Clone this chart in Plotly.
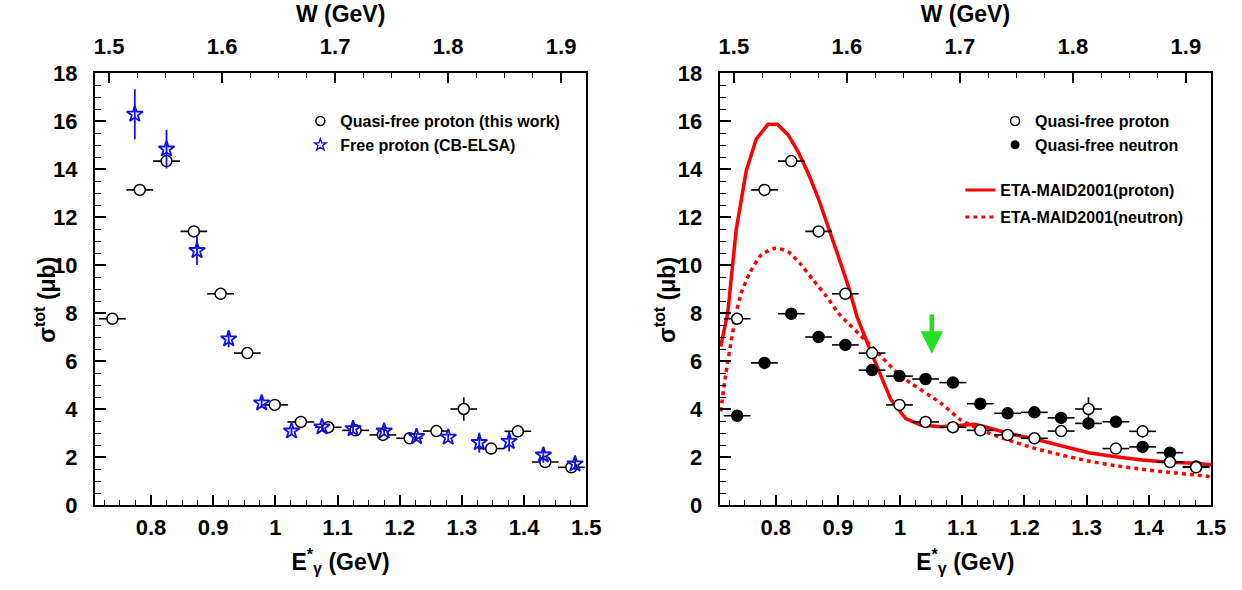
import numpy as np
import plotly.graph_objects as go

# ---------------- data ----------------
# quasi-free proton (this work), both panels
e_p = [0.738, 0.782, 0.825, 0.869, 0.912, 0.955, 0.999, 1.041, 1.085, 1.129,
       1.173, 1.216, 1.259, 1.303, 1.347, 1.390, 1.434, 1.476]
s_p = [7.76, 13.13, 14.33, 11.40, 8.80, 6.33, 4.17, 3.46, 3.24, 3.11,
       2.92, 2.78, 3.08, 4.00, 2.35, 3.07, 1.79, 1.57]
s_p_err = [0.1, 0.15, 0.2, 0.15, 0.15, 0.1, 0.1, 0.1, 0.1, 0.1,
           0.1, 0.1, 0.15, 0.49, 0.15, 0.25, 0.15, 0.1]
e_bin_half = 0.0215

# free proton (CB-ELSA)
e_f = [0.774, 0.825, 0.874, 0.925, 0.978, 1.026, 1.075, 1.125, 1.175, 1.227,
       1.278, 1.328, 1.376, 1.431, 1.482]
s_f = [16.28, 14.83, 10.60, 6.92, 4.25, 3.08, 3.25, 3.18, 3.08, 2.85,
       2.82, 2.60, 2.65, 2.08, 1.71]
s_f_err = [1.04, 0.81, 0.60, 0.35, 0.20, 0.15, 0.15, 0.20, 0.20, 0.15,
           0.15, 0.42, 0.42, 0.32, 0.25]

# quasi-free neutron
s_n = [3.72, 5.92, 7.97, 7.00, 6.67, 5.62, 5.37, 5.25, 5.10, 4.22,
       3.82, 3.86, 3.63, 3.40, 3.47, 2.42, 2.18, 1.60]
s_n_err = [0.1] * 18

# ETA-MAID2001 curves
maid_p_e = [0.7115, 0.7228, 0.7364, 0.7526, 0.7687, 0.7876, 0.8027, 0.820, 0.836,
            0.8523, 0.8685, 0.8847, 0.9009, 0.917, 0.9307, 0.952, 0.985, 1.009,
            1.033, 1.0656, 1.1195, 1.136, 1.1736, 1.2168, 1.260, 1.303, 1.3463,
            1.389, 1.4327, 1.4758, 1.500]
maid_p_s = [6.6, 7.99, 11.46, 13.92, 15.25, 15.86, 15.86, 15.42, 14.72,
            13.82, 12.78, 11.60, 10.35, 9.10, 7.85, 6.45, 4.40, 3.60,
            3.33, 3.26, 3.36, 3.26, 2.99, 2.75, 2.46, 2.18, 2.01,
            1.875, 1.78, 1.74, 1.68]
maid_n_e = [0.7115, 0.720, 0.7364, 0.7445, 0.7579, 0.7768, 0.800, 0.820, 0.8389,
            0.8604, 0.8821, 0.9009, 0.952, 1.000, 1.0656, 1.098, 1.130, 1.1736,
            1.2168, 1.260, 1.303, 1.346, 1.389, 1.433, 1.476, 1.500]
maid_n_s = [3.9, 5.5, 7.99, 8.82, 9.65, 10.42, 10.70, 10.55, 10.07,
            9.37, 8.68, 7.99, 6.67, 5.40, 4.24, 3.54, 3.125, 2.71,
            2.36, 2.08, 1.83, 1.64, 1.49, 1.36, 1.25, 1.18]

# ---------------- axes helpers ----------------
MP = 0.93827
E_MIN, E_MAX = 0.71, 1.5
def w_of_e(e):
    return float(np.sqrt(MP * MP + 2 * MP * e))
W_MIN, W_MAX = w_of_e(E_MIN), w_of_e(E_MAX)

FONT = "Liberation Sans, Arial, sans-serif"
BLUE = "#1010ee"
RED = "#ff0000"

fig = go.Figure()

def xerr():
    return dict(type="constant", value=e_bin_half, width=0, thickness=1.6, color="black")

# ---- left panel ----
fig.add_trace(go.Scatter(
    x=e_p, y=s_p, mode="markers", xaxis="x", yaxis="y", showlegend=False,
    error_x=xerr(),
    error_y=dict(type="data", array=s_p_err, width=0, thickness=1.6, color="black"),
    marker=dict(symbol="circle", size=11, color="white", line=dict(color="black", width=1.5))))
fig.add_trace(go.Scatter(
    x=e_f, y=s_f, mode="markers", xaxis="x", yaxis="y", showlegend=False,
    error_y=dict(type="data", array=s_f_err, width=0, thickness=1.8, color=BLUE),
    marker=dict(symbol="star-open", size=12, color=BLUE, line=dict(color=BLUE, width=1.8))))
# legend entries (left)
fig.add_trace(go.Scatter(
    x=[None], y=[None], mode="markers", xaxis="x", yaxis="y", legend="legend",
    name="Quasi-free proton (this work)", legendgroup="a",
    marker=dict(symbol="circle-open", size=9, color="black", line=dict(width=1.5))))
fig.add_trace(go.Scatter(
    x=[None], y=[None], mode="markers", xaxis="x", yaxis="y", legend="legend",
    name="Free proton (CB-ELSA)", legendgroup="b",
    marker=dict(symbol="star-open", size=9, color=BLUE, line=dict(width=1.3))))

# ---- right panel ----
fig.add_trace(go.Scatter(
    x=maid_n_e, y=maid_n_s, mode="lines", xaxis="x2", yaxis="y2", showlegend=False,
    line=dict(color=RED, width=3.5, dash="4px,4px", shape="spline", smoothing=0.6)))
fig.add_trace(go.Scatter(
    x=maid_p_e, y=maid_p_s, mode="lines", xaxis="x2", yaxis="y2", showlegend=False,
    line=dict(color=RED, width=3.5)))
fig.add_trace(go.Scatter(
    x=e_p, y=s_n, mode="markers", xaxis="x2", yaxis="y2", showlegend=False,
    error_x=xerr(),
    error_y=dict(type="data", array=s_n_err, width=0, thickness=1.6, color="black"),
    marker=dict(symbol="circle", size=11, color="black", line=dict(color="black", width=1.5))))
fig.add_trace(go.Scatter(
    x=e_p, y=s_p, mode="markers", xaxis="x2", yaxis="y2", showlegend=False,
    error_x=xerr(),
    error_y=dict(type="data", array=s_p_err, width=0, thickness=1.6, color="black"),
    marker=dict(symbol="circle", size=11, color="white", line=dict(color="black", width=1.5))))
# legend entries (right)
fig.add_trace(go.Scatter(
    x=[None], y=[None], mode="markers", xaxis="x2", yaxis="y2", legend="legend2",
    name="Quasi-free proton", legendgroup="c",
    marker=dict(symbol="circle-open", size=9, color="black", line=dict(width=1.5))))
fig.add_trace(go.Scatter(
    x=[None], y=[None], mode="markers", xaxis="x2", yaxis="y2", legend="legend2",
    name="Quasi-free neutron", legendgroup="d",
    marker=dict(symbol="circle", size=9, color="black")))
fig.add_trace(go.Scatter(
    x=[None], y=[None], mode="lines", xaxis="x2", yaxis="y2", legend="legend3",
    name="ETA-MAID2001(proton)", legendgroup="e",
    line=dict(color=RED, width=3)))
fig.add_trace(go.Scatter(
    x=[None], y=[None], mode="lines", xaxis="x2", yaxis="y2", legend="legend3",
    name="ETA-MAID2001(neutron)", legendgroup="f",
    line=dict(color=RED, width=3, dash="4px,4px")))

# dummy traces for the top W axes
fig.add_trace(go.Scatter(x=[None], y=[None], xaxis="x3", yaxis="y", showlegend=False, hoverinfo="skip"))
fig.add_trace(go.Scatter(x=[None], y=[None], xaxis="x4", yaxis="y2", showlegend=False, hoverinfo="skip"))

tickfont = dict(family=FONT, size=22, color="black", weight="bold")
titlefont = dict(family=FONT, size=23, color="black", weight="bold")

def e_axis(domain, anchor):
    return dict(domain=domain, anchor=anchor, range=[E_MIN, E_MAX], tick0=0.8, dtick=0.1,
                ticks="inside", ticklen=10, tickwidth=1.5, tickcolor="black",
                minor=dict(ticks="inside", ticklen=5, tickwidth=1.2, tickcolor="black",
                           dtick=0.025, tick0=0.8),
                showline=True, linewidth=2, linecolor="black", mirror=True,
                showgrid=False, zeroline=False, tickfont=tickfont, automargin=False,
                ticklabelstandoff=2,
                title=dict(text="E<sup>*</sup><sub>γ</sub> (GeV)", font=titlefont, standoff=14))

def w_axis(overlay, anchor):
    return dict(overlaying=overlay, anchor=anchor, side="top", range=[W_MIN, W_MAX],
                tick0=1.5, dtick=0.1, ticks="inside", ticklen=10, tickwidth=1.5,
                tickcolor="black",
                minor=dict(ticks="inside", ticklen=5, tickwidth=1.2, tickcolor="black",
                           dtick=0.025, tick0=1.5),
                showline=False, showgrid=False, zeroline=False, tickfont=tickfont,
                automargin=False, ticklabelstandoff=14,
                title=dict(text="W (GeV)", font=titlefont, standoff=4))

def s_axis(anchor):
    return dict(anchor=anchor, domain=[0, 1], range=[0, 18], tick0=0, dtick=2,
                ticks="inside", ticklen=11, tickwidth=1.5, tickcolor="black",
                minor=dict(ticks="inside", ticklen=6, tickwidth=1.2, tickcolor="black",
                           dtick=0.5, tick0=0),
                showline=True, linewidth=2, linecolor="black", mirror=True,
                showgrid=False, zeroline=False, tickfont=tickfont, automargin=False,
                ticklabelstandoff=11)

ytitle = "σ<sup>tot</sup> (μb)"
legfont = dict(family=FONT, size=16, color="black", weight="bold")
fig.update_layout(
    width=1242, height=590,
    margin=dict(l=95, r=31, t=73, b=85),
    paper_bgcolor="white", plot_bgcolor="white",
    font=dict(family=FONT, color="black"),
    xaxis=e_axis([0, 0.4402], "y"),
    yaxis=s_axis("x"),
    xaxis2=e_axis([0.5598, 1.0], "y2"),
    yaxis2=s_axis("x2"),
    xaxis3=w_axis("x", "y"),
    xaxis4=w_axis("x2", "y2"),
    legend=dict(x=0.184, y=0.928, xanchor="left", yanchor="top", font=legfont,
                bgcolor="rgba(0,0,0,0)", tracegroupgap=0, itemclick=False),
    legend2=dict(x=0.8065, y=0.928, xanchor="left", yanchor="top", font=legfont,
                 bgcolor="rgba(0,0,0,0)", tracegroupgap=0, itemclick=False),
    legend3=dict(x=0.7754, y=0.768, xanchor="left", yanchor="top", font=legfont,
                 bgcolor="rgba(0,0,0,0)", tracegroupgap=3, itemclick=False),
    annotations=[
        dict(x=1.051, y=6.3, ax=1.051, ay=8.0, xref="x2", yref="y2",
             axref="x2", ayref="y2", showarrow=True, arrowhead=2,
             arrowsize=1.0, arrowwidth=4.5, arrowcolor="#22e022", text=""),
        dict(x=-0.0448, y=0.475, xref="paper", yref="paper", text=ytitle,
             textangle=-90, showarrow=False, font=titlefont,
             xanchor="center", yanchor="middle"),
        dict(x=0.511, y=0.475, xref="paper", yref="paper", text=ytitle,
             textangle=-90, showarrow=False, font=titlefont,
             xanchor="center", yanchor="middle"),
    ],
)

fig.write_html("out.html", post_script="document.body.style.margin='0px';",
               config={"displayModeBar": False})
